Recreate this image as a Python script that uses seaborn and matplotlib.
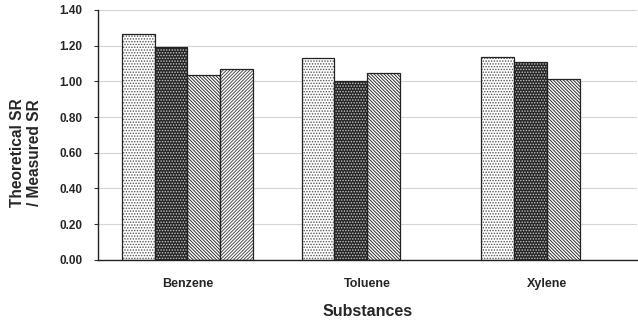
import matplotlib
matplotlib.use("Agg")
import matplotlib.pyplot as plt
from matplotlib.patches import Rectangle
from matplotlib.ticker import FixedLocator
import seaborn as sns
import pandas as pd

substances = ["Benzene", "Toluene", "Xylene"]
series = ["Series 1", "Series 2", "Series 3", "Series 4"]
s1 = [1.265, 1.129, 1.135]
s2 = [1.193, 1.002, 1.107]
s3 = [1.038, 1.045, 1.015]
s4 = [1.068, None, None]
yticks = [0.0, 0.2, 0.4, 0.6, 0.8, 1.0, 1.2, 1.4]

rows = []
for name, vals in zip(series, [s1, s2, s3, s4]):
    for sub, v in zip(substances, vals):
        if v is not None:
            rows.append({"Substance": sub, "Series": name, "Ratio": v})
df = pd.DataFrame(rows)

sns.set_style("white")
plt.rcParams["font.family"] = ["Liberation Sans", "DejaVu Sans"]
plt.rcParams["font.weight"] = "bold"
plt.rcParams["hatch.linewidth"] = 0.7

fig = plt.figure(figsize=(6.38, 3.22), dpi=100)
ax = fig.add_axes([0.153, 0.193, 0.845, 0.776])

sns.barplot(data=df, x="Substance", y="Ratio", hue="Series",
            order=substances, hue_order=series, errorbar=None,
            width=0.73, legend=False, ax=ax, zorder=2)

# face colour, hatch, hatch colour per series
styles = [("white", "......", "#555555"),
          ("#262626", "......", "#c4c4c4"),
          ("white", "\\" * 10, "#303030"),
          ("white", "/" * 10, "#505050")]
for cont, (fc, hatch, hc) in zip(ax.containers, styles):
    for bar in cont:
        bar.set_facecolor(fc)
        bar.set_hatch(hatch)
        bar.set_edgecolor(hc)
        bar.set_linewidth(0)
        ax.add_patch(Rectangle(bar.get_xy(), bar.get_width(), bar.get_height(),
                               fill=False, edgecolor="#222222", lw=0.9, zorder=3))

ax.set_ylim(0, 1.4)
ax.set_xlim(-0.5, len(substances) - 0.5)
ax.yaxis.set_major_locator(FixedLocator(yticks))
ax.set_yticklabels([f"{t:.2f}" for t in yticks])
ax.grid(axis="y", color="#d4d4d4", lw=0.8, zorder=0)
ax.set_axisbelow(True)

ax.xaxis.set_minor_locator(FixedLocator([0.5, 1.5]))
ax.tick_params(axis="x", which="major", length=0, labelsize=9, pad=13)
ax.tick_params(axis="x", which="minor", length=3, direction="in", width=0.8, color="#333333")
ax.tick_params(axis="y", length=3, width=0.8, direction="out", labelsize=8.5, pad=8, color="#333333", left=True)

for s in ["top", "right"]:
    ax.spines[s].set_visible(False)
for s in ["left", "bottom"]:
    ax.spines[s].set_color("#222222")
    ax.spines[s].set_linewidth(1.0)

ax.set_xlabel("Substances", fontsize=11.5, fontweight="bold", labelpad=10)
ax.set_ylabel("Theoretical SR\n/ Measured SR", fontsize=11.2, fontweight="bold")
ax.yaxis.set_label_coords(-0.103, 0.43)

fig.savefig("out.png", dpi=100)
